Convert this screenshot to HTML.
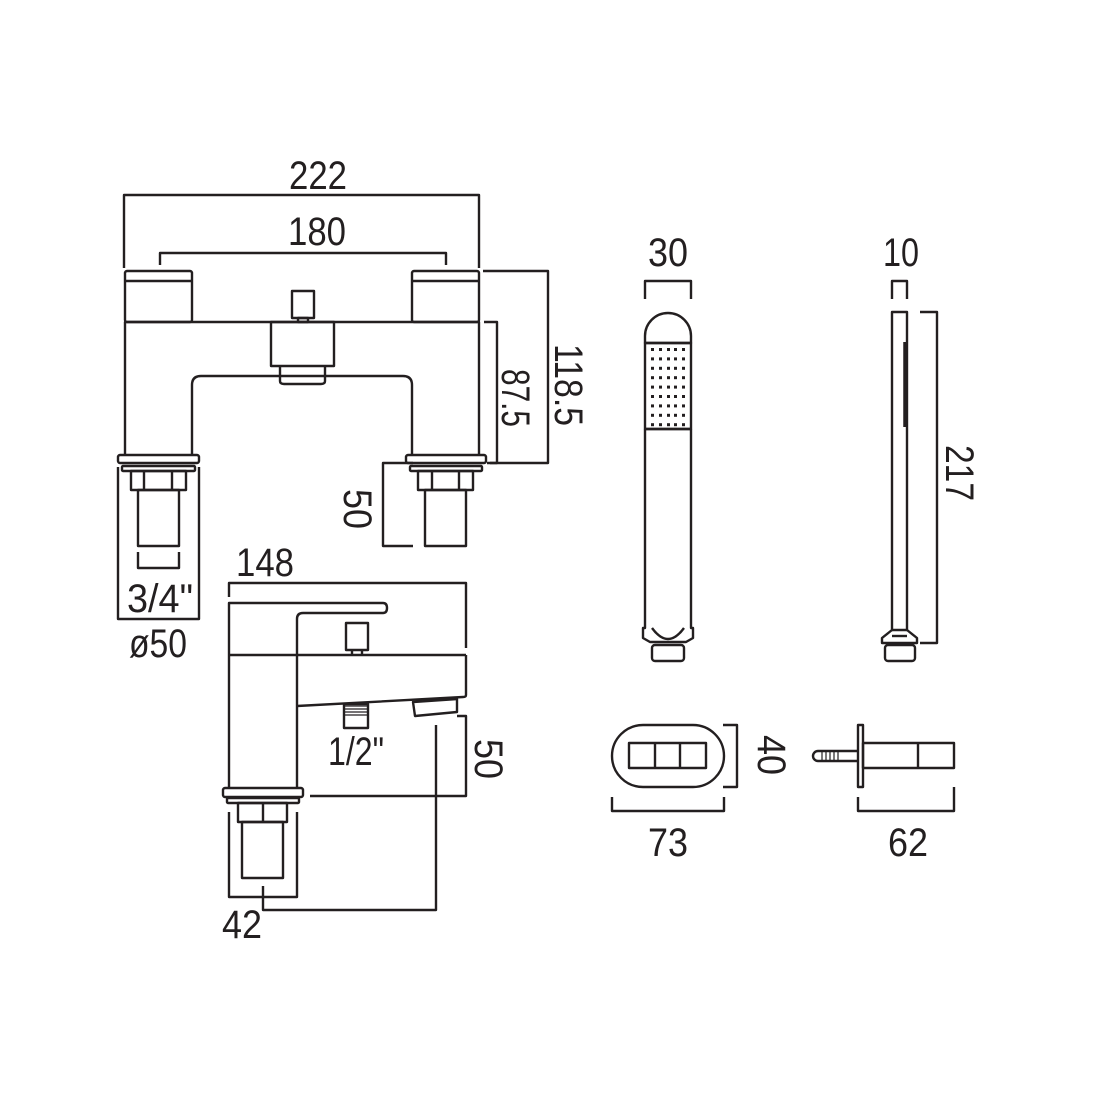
<!DOCTYPE html>
<html><head><meta charset="utf-8"><style>
html,body{margin:0;padding:0;background:#fff;}
svg{display:block;}
text{font-family:"Liberation Sans",sans-serif;font-size:40px;fill:#231f20;}
</style></head><body>
<svg width="1100" height="1100" viewBox="0 0 1100 1100" xmlns="http://www.w3.org/2000/svg">
<g fill="none" stroke="#231f20" stroke-width="2.4" stroke-linejoin="round">
<!-- top dims -->
<polyline points="124,268 124,195 479,195 479,268"/>
<polyline points="160,265 160,253 446,253 446,265"/>
<!-- handles -->
<rect x="125" y="271" width="67" height="51" rx="2"/>
<line x1="125" y1="281" x2="192" y2="281"/>
<rect x="412" y="271" width="67" height="51" rx="2"/>
<line x1="412" y1="281" x2="479" y2="281"/>
<!-- body -->
<polyline points="125,455 125,322 479,322 479,455"/>
<path d="M192,455 V385 Q192,376 201,376 H403 Q412,376 412,385 V455"/>
<rect x="292" y="291" width="22" height="27"/>
<rect x="298" y="318" width="10" height="4"/>
<rect x="271" y="322" width="63" height="44"/>
<path d="M280,366 V381 Q280,384 284,384 H321 Q325,384 325,381 V366"/>
<!-- left leg -->
<rect x="118" y="455" width="81" height="8" rx="2"/>
<rect x="122" y="466" width="73" height="5" rx="1"/>
<rect x="131" y="471" width="55" height="19"/>
<line x1="144" y1="471" x2="144" y2="490"/><line x1="172" y1="471" x2="172" y2="490"/>
<rect x="138" y="490" width="41" height="56"/>
<polyline points="138,552 138,568 179,568 179,552"/>
<polyline points="118,467 118,619 199,619 199,467"/>
<!-- right leg -->
<rect x="406" y="455" width="80" height="8" rx="2"/>
<rect x="410" y="466" width="72" height="5" rx="1"/>
<rect x="418" y="471" width="55" height="19"/>
<line x1="432" y1="471" x2="432" y2="490"/><line x1="459" y1="471" x2="459" y2="490"/>
<rect x="425" y="490" width="41" height="56"/>
<polyline points="413,463 383,463 383,546 413,546"/>
<polyline points="484,322 497,322 497,463 487,463"/>
<polyline points="483,271 548,271 548,463 490,463"/>
<!-- basin/bath filler -->
<polyline points="229,597 229,583 466,583 466,648"/>
<path d="M229,788 V603 H383 Q387,603 387,608 Q387,613 383,613 H303 Q297,613 297,619 V788"/>
<line x1="229" y1="655" x2="466" y2="655"/>
<path d="M466,655 V695 Q466,697 463,697 L297,706"/>
<rect x="346" y="623" width="22" height="27"/>
<line x1="352" y1="650" x2="352" y2="655"/><line x1="362" y1="650" x2="362" y2="655"/>
<path d="M413,702 L457,699 L457,712 L415,716 Z"/>
<rect x="344" y="704" width="24" height="24"/>
<g stroke-width="1.2"><line x1="344" y1="706" x2="368" y2="706"/><line x1="344" y1="709" x2="368" y2="709"/><line x1="344" y1="712" x2="368" y2="712"/><line x1="344" y1="715" x2="368" y2="715"/></g>
<polyline points="457,716 466,716 466,796 310,796"/>
<rect x="223" y="788" width="80" height="9" rx="2"/>
<rect x="227" y="798" width="72" height="5" rx="1"/>
<rect x="238" y="803" width="49" height="19"/>
<line x1="263" y1="803" x2="263" y2="822"/>
<rect x="242" y="822" width="41" height="56"/>
<polyline points="229,812 229,897 297,897 297,812"/>
<polyline points="263,886 263,910 436,910 436,725"/>
<!-- handshower -->
<polyline points="645,299 645,281 691,281 691,299"/>
<path d="M645,343 V336 A23,23 0 0 1 691,336 V343 Z"/>
<rect x="645" y="343" width="46" height="86"/>
<line x1="645" y1="429" x2="691" y2="429"/>
<path d="M645,429 V628 L643,628 V638 L650,642 H686 L693,638 V628 L691,628 V429"/>
<path d="M652,628 Q668,650 684,628"/>
<rect x="652" y="645" width="32" height="16" rx="3"/>
<polyline points="892,299 892,281 907,281 907,299"/>
<rect x="892" y="312" width="15" height="318"/>
<line x1="905" y1="342" x2="905" y2="427" stroke-width="3.5"/>
<path d="M892,630 L882,638 V643 H917 V638 L907,630"/>
<line x1="892" y1="636" x2="907" y2="636"/>
<rect x="885" y="645" width="30" height="16" rx="3"/>
<polyline points="920,312 937,312 937,643 920,643"/>
<!-- holder front -->
<rect x="612" y="725" width="112" height="62" rx="31"/>
<rect x="629" y="743" width="77" height="25"/>
<line x1="655" y1="743" x2="655" y2="768"/><line x1="680" y1="743" x2="680" y2="768"/>
<polyline points="723,725 737,725 737,787 723,787"/>
<polyline points="612,797 612,811 724,811 724,797"/>
<!-- holder side -->
<rect x="858" y="725" width="5" height="62"/>
<rect x="863" y="743" width="91" height="25"/>
<line x1="918" y1="743" x2="918" y2="768"/>
<path d="M858,751 H818 A5,5 0 0 0 818,761 H858"/>
<g stroke-width="1.2"><line x1="822" y1="751" x2="822" y2="761"/><line x1="826" y1="751" x2="826" y2="761"/><line x1="830" y1="751" x2="830" y2="761"/><line x1="834" y1="751" x2="834" y2="761"/><line x1="838" y1="751" x2="838" y2="761"/></g>
<polyline points="858,797 858,811 954,811 954,787"/>
</g>
<g fill="#231f20">
<rect x="650" y="347" width="36" height="80" fill="none"/>
</g>
<g fill="#231f20">
<!-- dots -->
<g id="dots">
<rect x="651" y="348" width="3" height="3"/><rect x="659" y="348" width="3" height="3"/><rect x="667" y="348" width="3" height="3"/><rect x="674" y="348" width="3" height="3"/><rect x="682" y="348" width="3" height="3"/>
</g>
<use href="#dots" y="9.4"/><use href="#dots" y="18.8"/><use href="#dots" y="28.2"/><use href="#dots" y="37.6"/><use href="#dots" y="47"/><use href="#dots" y="56.4"/><use href="#dots" y="65.8"/><use href="#dots" y="75.2"/>
</g>
<!-- text -->
<text x="318" y="189" text-anchor="middle" textLength="58" lengthAdjust="spacingAndGlyphs">222</text>
<text x="317" y="245" text-anchor="middle" textLength="58" lengthAdjust="spacingAndGlyphs">180</text>
<text x="668" y="266" text-anchor="middle" textLength="40" lengthAdjust="spacingAndGlyphs">30</text>
<text x="901" y="266" text-anchor="middle" textLength="36" lengthAdjust="spacingAndGlyphs">10</text>
<text x="265" y="576" text-anchor="middle" textLength="58" lengthAdjust="spacingAndGlyphs">148</text>
<text x="160" y="612" text-anchor="middle" textLength="66" lengthAdjust="spacingAndGlyphs">3/4"</text>
<text x="158" y="657" text-anchor="middle" textLength="58" lengthAdjust="spacingAndGlyphs">ø50</text>
<text x="356" y="765" text-anchor="middle" textLength="56" lengthAdjust="spacingAndGlyphs">1/2"</text>
<text x="242" y="938" text-anchor="middle" textLength="40" lengthAdjust="spacingAndGlyphs">42</text>
<text x="668" y="856" text-anchor="middle" textLength="40" lengthAdjust="spacingAndGlyphs">73</text>
<text x="908" y="856" text-anchor="middle" textLength="40" lengthAdjust="spacingAndGlyphs">62</text>
<text transform="translate(555,385) rotate(90)" text-anchor="middle" textLength="82" lengthAdjust="spacingAndGlyphs">118.5</text>
<text transform="translate(502,398) rotate(90)" text-anchor="middle" textLength="58" lengthAdjust="spacingAndGlyphs">87.5</text>
<text transform="translate(344,509) rotate(90)" text-anchor="middle" textLength="40" lengthAdjust="spacingAndGlyphs">50</text>
<text transform="translate(475,759) rotate(90)" text-anchor="middle" textLength="40" lengthAdjust="spacingAndGlyphs">50</text>
<text transform="translate(946,473) rotate(90)" text-anchor="middle" textLength="56" lengthAdjust="spacingAndGlyphs">217</text>
<text transform="translate(758,755) rotate(90)" text-anchor="middle" textLength="40" lengthAdjust="spacingAndGlyphs">40</text>
</svg>
</body></html>
